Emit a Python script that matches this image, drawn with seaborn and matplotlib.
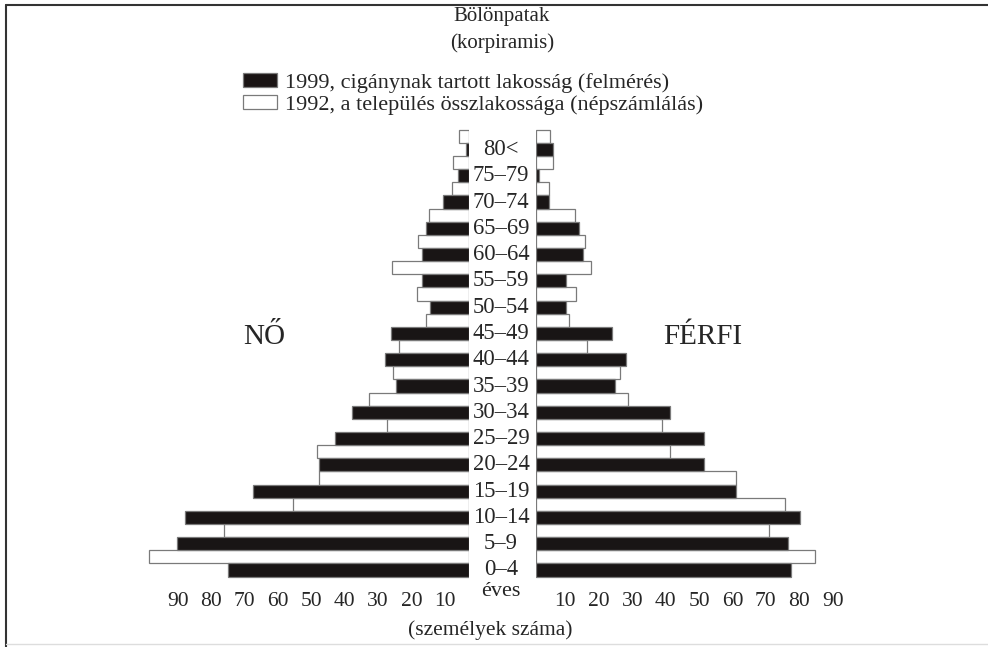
import pandas as pd
import matplotlib
matplotlib.use('Agg')
import matplotlib.pyplot as plt
from matplotlib.patches import Patch
from matplotlib.lines import Line2D
from matplotlib.transforms import blended_transform_factory, ScaledTranslation
import seaborn as sns

# age groups, bottom (0-4) to top (80<)
AGES = ['0–4', '5–9', '10–14', '15–19', '20–24', '25–29', '30–34', '35–39',
        '40–44', '45–49', '50–54', '55–59', '60–64', '65–69', '70–74', '75–79', '80<']

# women (left side)
NO_1999 = [72.2, 87.5, 85.1, 64.9, 45.0, 40.2, 35.2, 21.9, 25.1, 23.4, 11.8, 14.2, 14.2, 13.0, 7.8, 3.3, 1.0]
NO_1992 = [95.8, 73.4, 52.7, 45.0, 45.7, 24.6, 30.1, 22.8, 21.1, 13.0, 15.6, 23.2, 15.4, 12.2, 5.1, 4.8, 3.1]
# men (right side)
FERFI_1999 = [76.4, 75.5, 79.0, 59.8, 50.4, 50.4, 40.2, 23.6, 27.0, 22.8, 9.1, 9.1, 14.2, 12.9, 3.9, 1.0, 5.1]
FERFI_1992 = [83.6, 69.6, 74.5, 59.8, 40.1, 37.8, 27.5, 25.2, 15.4, 10.0, 12.1, 16.6, 14.8, 11.8, 3.9, 5.1, 4.3]

TICKS = [10, 20, 30, 40, 50, 60, 70, 80, 90]

LEG_1999 = '1999, cigánynak tartott lakosság (felmérés)'
LEG_1992 = '1992, a település összlakossága (népszámlálás)'

BLACK = '#1a1414'
EDGE = '#7a7a7a'

W, H = 988, 647


def long_df(v1999, v1992):
    a = pd.DataFrame({'age': AGES, 'year': '1999', 'value': v1999})
    b = pd.DataFrame({'age': AGES, 'year': '1992', 'value': v1992})
    return pd.concat([a, b], ignore_index=True)


def draw_side(fig, ax, df, xmax, invert, shift_px):
    sns.barplot(ax=ax, data=df, x='value', y='age', hue='year', orient='h',
                order=AGES[::-1], hue_order=['1992', '1999'],
                palette={'1992': 'white', '1999': BLACK}, width=1.0,
                edgecolor=EDGE, linewidth=0.9, errorbar=None, legend=False)
    ax.set_xlim((xmax, 0) if invert else (0, xmax))
    ax.set_ylim(16.65, -0.648)
    ax.set_xticks(TICKS)
    ax.set_xticklabels([str(t) for t in TICKS], fontsize=15.5)
    ax.tick_params(axis='x', length=0, pad=8)
    # the printed tick labels sit slightly off the bar scale
    off = ScaledTranslation(shift_px / 100, 0, fig.dpi_scale_trans)
    for lab in ax.get_xticklabels():
        lab.set_transform(lab.get_transform() + off)
    ax.set_yticks([])
    ax.set_xlabel('')
    ax.set_ylabel('')
    for s in ax.spines.values():
        s.set_visible(False)
    ax.set_facecolor('none')


if __name__ == '__main__':
    sns.set_style('white')
    plt.rcParams['font.family'] = ['Liberation Serif', 'DejaVu Serif']

    fig = plt.figure(figsize=(W / 100, H / 100), dpi=100)
    bottom = (H - 580.5) / H
    height = (580.5 - 125.9) / H
    ax_l = fig.add_axes([140 / W, bottom, 329.3 / W, height])
    ax_r = fig.add_axes([536 / W, bottom, 310 / W, height])

    draw_side(fig, ax_l, long_df(NO_1999, NO_1992), 98.6, True, 9)
    draw_side(fig, ax_r, long_df(FERFI_1999, FERFI_1992), 92.8, False, -4)

    # age group labels in the middle column, level with the black bars
    tr = blended_transform_factory(fig.transFigure, ax_r.transData)
    for k, age in enumerate(AGES[::-1]):
        ax_r.text(501 / W, k + 0.25, age, transform=tr, ha='center', va='center', fontsize=16.3)

    fig.text(502 / W, 1 - 17 / H, 'Bölönpatak', ha='center', va='center', fontsize=15)
    fig.text(502 / W, 1 - 43 / H, '(korpiramis)', ha='center', va='center', fontsize=15)
    fig.text(264 / W, 1 - 337 / H, 'NŐ', ha='center', va='center', fontsize=21)
    fig.text(703 / W, 1 - 337 / H, 'FÉRFI', ha='center', va='center', fontsize=21)
    fig.text(501 / W, 1 - 591 / H, 'éves', ha='center', va='center', fontsize=16)
    fig.text(490 / W, 1 - 630 / H, '(személyek száma)', ha='center', va='center', fontsize=15.5)

    handles = [Patch(facecolor=BLACK, edgecolor=EDGE, linewidth=0.9),
               Patch(facecolor='white', edgecolor=EDGE, linewidth=0.9)]
    fig.legend(handles, [LEG_1999, LEG_1992], loc='upper left',
               bbox_to_anchor=(243 / W, 1 - 73 / H), frameon=False, fontsize=16,
               handlelength=1.55, handleheight=0.6, handletextpad=0.35,
               labelspacing=0.1, borderpad=0, borderaxespad=0)

    # frame lines of the scanned page
    fig.add_artist(Line2D([6 / W, 6 / W], [0, 1 - 5 / H], color='#333333', lw=1.5))
    fig.add_artist(Line2D([6 / W, 1], [1 - 5 / H, 1 - 5 / H], color='#333333', lw=1.5))
    fig.add_artist(Line2D([6 / W, 1], [1 - 644 / H, 1 - 644 / H], color='#dddddd', lw=1.0))

    fig.savefig('out.png', dpi=100, facecolor='white')
    plt.close(fig)
